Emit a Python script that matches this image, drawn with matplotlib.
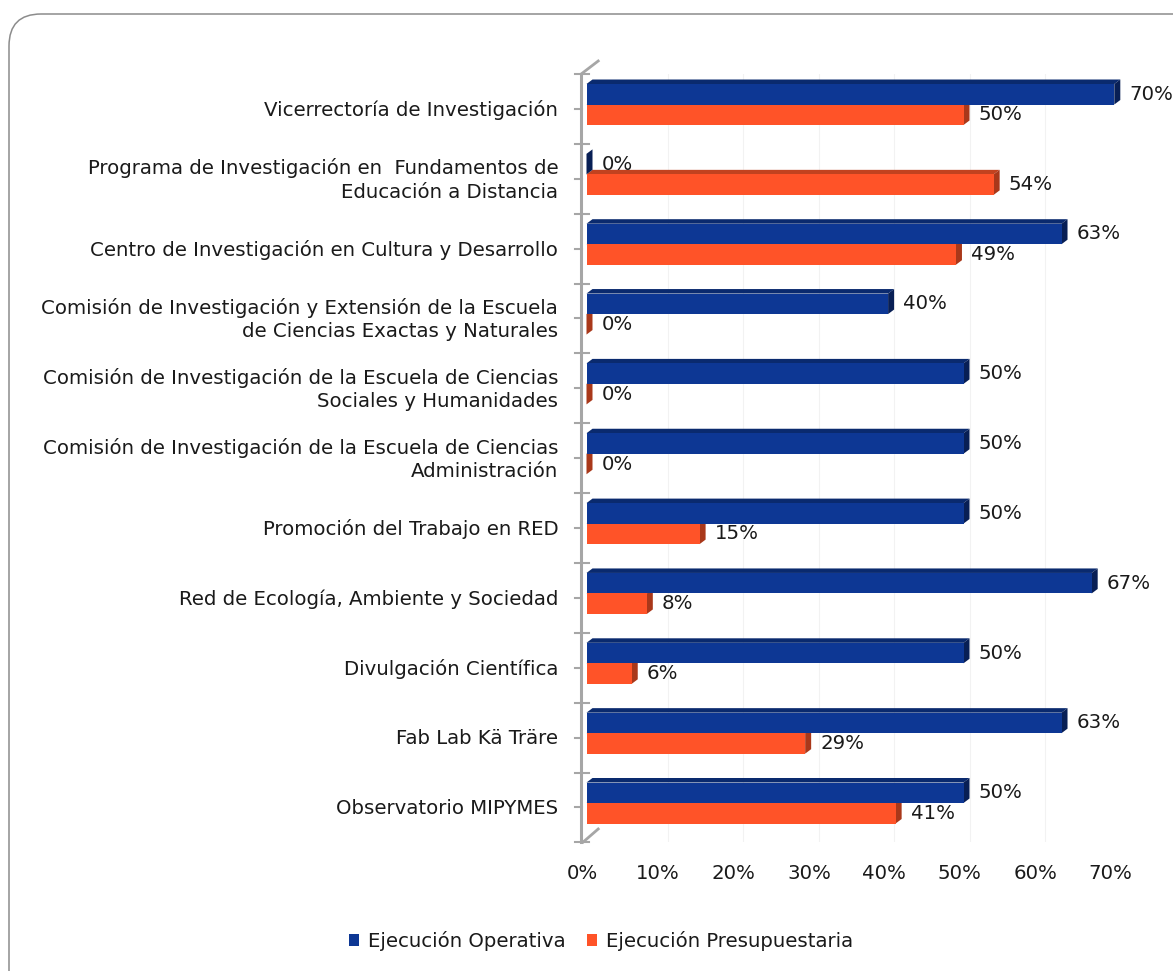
import numpy as np
import matplotlib
matplotlib.use("Agg")
import matplotlib.pyplot as plt
from matplotlib.patches import Polygon, Rectangle, FancyBboxPatch, Patch
from matplotlib.transforms import IdentityTransform

categories = [
    "Vicerrectoría de Investigación",
    "Programa de Investigación en  Fundamentos de\nEducación a Distancia",
    "Centro de Investigación en Cultura y Desarrollo",
    "Comisión de Investigación y Extensión de la Escuela\nde Ciencias Exactas y Naturales",
    "Comisión de Investigación de la Escuela de Ciencias\nSociales y Humanidades",
    "Comisión de Investigación de la Escuela de Ciencias\nAdministración",
    "Promoción del Trabajo en RED",
    "Red de Ecología, Ambiente y Sociedad",
    "Divulgación Científica",
    "Fab Lab Kä Träre",
    "Observatorio MIPYMES",
]
operativa = [70, 0, 63, 40, 50, 50, 50, 67, 50, 63, 50]
presupuestaria = [50, 54, 49, 0, 0, 0, 15, 8, 6, 29, 41]
xticks = [0, 10, 20, 30, 40, 50, 60, 70]
series_names = ["Ejecución Operativa", "Ejecución Presupuestaria"]

plt.rcParams["font.family"] = "DejaVu Sans"
TEXT = "#1a1a1a"
FS = 14.2

W, H = 1173, 971
fig = plt.figure(figsize=(W / 100, H / 100), dpi=100)

# pixel geometry of the plot area
PX_PER_UNIT = 7.54
ROW_PX = 69.85
x_left_px, x0_px = 581.2, 586.5
x_right_px = x0_px + 70 * PX_PER_UNIT
y_top_px, y_bot_px = 74, 842
ax = fig.add_axes([x_left_px / W, 1 - y_bot_px / H,
                   (x_right_px - x_left_px) / W, (y_bot_px - y_top_px) / H])
xmin = -(x0_px - x_left_px) / PX_PER_UNIT
ymin_row = (y_top_px - 104.5) / ROW_PX
ymax_row = (y_bot_px - 104.5) / ROW_PX
ax.set_xlim(xmin, 70)
ax.set_ylim(ymax_row, ymin_row)
ax.axis("off")

# 3D look
dx = 6 / PX_PER_UNIT
dy = 4.5 / ROW_PX
h = 20.5 / ROW_PX

blue = ("#0D3794", "#0A2A6E", "#081F55")
orange = ("#FF5328", "#C2421F", "#A9381A")

# faint gridlines
for t in xticks[1:]:
    ax.plot([t + dx, t + dx], [ymin_row, ymax_row], color="#F2F2F2", lw=0.8, zorder=0)


def bar3d(y_top, v, cols, z):
    front, top, side = cols
    ax.add_patch(Polygon([(0, y_top), (dx, y_top - dy), (v + dx, y_top - dy), (v, y_top)],
                         closed=True, facecolor=top, edgecolor="none", zorder=z, clip_on=False))
    ax.add_patch(Polygon([(v, y_top), (v + dx, y_top - dy), (v + dx, y_top + h - dy), (v, y_top + h)],
                         closed=True, facecolor=side, edgecolor="none", zorder=z, clip_on=False))
    ax.add_patch(Rectangle((0, y_top), v, h, facecolor=front, edgecolor="none", zorder=z,
                           clip_on=False))


for i in range(len(categories)):
    bar3d(i, presupuestaria[i], orange, 2)
    bar3d(i - h, operativa[i], blue, 3)
    ax.text(operativa[i] + dx + 9 / PX_PER_UNIT, i - h / 2, f"{operativa[i]}%",
            va="center", ha="left", fontsize=FS, color=TEXT, zorder=5, clip_on=False)
    ax.text(presupuestaria[i] + dx + 9 / PX_PER_UNIT, i + h / 2, f"{presupuestaria[i]}%",
            va="center", ha="left", fontsize=FS, color=TEXT, zorder=5, clip_on=False)
    ax.text(xmin - 23 / PX_PER_UNIT, i + 0.08, categories[i], ha="right", va="center",
            fontsize=FS, color=TEXT, linespacing=1.3)

# left axis with ticks and depth lines
axis_col = "#A6A6A6"
ax.plot([xmin, xmin], [ymin_row, ymax_row], color=axis_col, lw=2.2, clip_on=False, zorder=4)
for k in range(len(categories) + 1):
    yb = ymin_row + k
    ax.plot([xmin - 6 / PX_PER_UNIT, xmin + 8 / PX_PER_UNIT], [yb, yb], color=axis_col,
            lw=1.5, clip_on=False, zorder=4)
for k in range(len(categories)):
    yc = ymin_row + 0.5 + k
    ax.plot([xmin - 6 / PX_PER_UNIT, xmin + 1 / PX_PER_UNIT], [yc, yc], color=axis_col,
            lw=1.5, clip_on=False, zorder=4)
ax.plot([xmin, xmin + 17 / PX_PER_UNIT], [ymin_row, ymin_row - 13 / ROW_PX],
        color=axis_col, lw=2, clip_on=False)
ax.plot([xmin + 2 / PX_PER_UNIT, xmin + 17 / PX_PER_UNIT], [ymax_row, ymax_row - 13 / ROW_PX],
        color=axis_col, lw=2, clip_on=False)

# x tick labels
for t in xticks:
    ax.text(t - 0.5, ymax_row + 31 / ROW_PX, f"{t}%", ha="center", va="center",
            fontsize=FS, color=TEXT, clip_on=False)

# legend
handles = [Patch(facecolor=blue[0]), Patch(facecolor=orange[0])]
fig.legend(handles, series_names, loc="center", bbox_to_anchor=(601 / W, 1 - 941 / H),
           ncol=2, frameon=False, fontsize=FS, handlelength=0.5, handleheight=0.5,
           handletextpad=0.45, columnspacing=1.1, labelcolor=TEXT)

# outer rounded frame
fig.patches.append(FancyBboxPatch((9, -40), 1250, H - 14 + 40,
                                  boxstyle="round,pad=0,rounding_size=32",
                                  transform=IdentityTransform(), facecolor="none",
                                  edgecolor="#8C8C8C", lw=1.1))

fig.savefig("out.png", dpi=100)
